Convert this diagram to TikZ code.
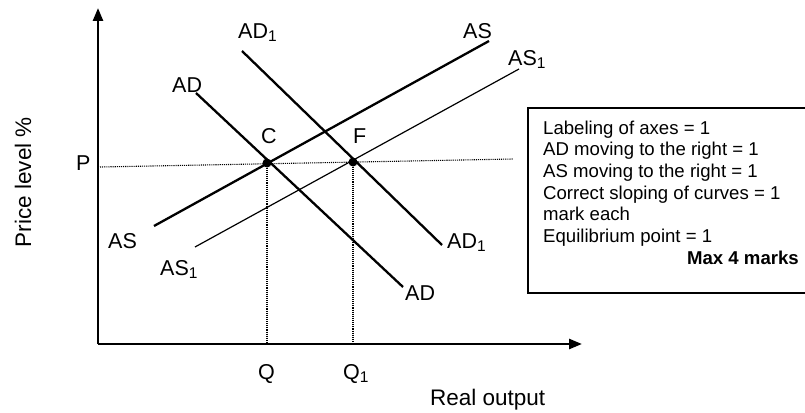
\documentclass[tikz,border=0pt]{standalone}
\usepackage{fontspec}
\setmainfont{Liberation Sans}
\usetikzlibrary{arrows.meta}

\newcommand{\one}{\raisebox{-3.3pt}{\fontsize{15.5}{16}\selectfont 1}}

\begin{document}
\begin{tikzpicture}[x=1pt, y=-1pt, >={Stealth[length=13pt, width=10pt, inset=0pt]},
    axis/.style={line width=2.6pt},
    curve/.style={line width=2.3pt},
    thincurve/.style={line width=1.2pt},
    guide/.style={densely dotted, line width=1.1pt},
    lbl/.style={anchor=base west, inner sep=0pt, font=\fontsize{21.5}{25}\selectfont},
    crit/.style={anchor=base west, inner sep=0pt, font=\fontsize{18.6}{21.7}\selectfont},
    dot/.style={circle, fill, inner sep=0pt, minimum size=9pt}]
    \useasboundingbox (0,0) rectangle (805,412);

    % axes
    \coordinate (O) at (98,344);
    \coordinate (ytop) at (98,8);
    \coordinate (xend) at (582,344);
    \draw[axis, ->] (O) -- (ytop);
    \draw[axis, ->] (O) -- (xend);
    \node[lbl, rotate=90, anchor=base, font=\fontsize{22.5}{26}\selectfont] (ylab) at (31,182) {Price level \%};
    \node[lbl, font=\fontsize{22.5}{26}\selectfont] (xlab) at (430,405) {Real output};

    % equilibrium points
    \node[dot] (C) at (267,163) {};
    \node[dot] (F) at (353,162) {};

    % price level and output guides
    \coordinate (pstart) at (100,167);
    \coordinate (pend) at (513,159);
    \draw[guide] (pstart) -- (pend);
    \draw[guide] (C) -- (C |- O);
    \draw[guide] (F) -- (F |- O);

    % demand curves
    \coordinate (ad-a) at (196,93);
    \coordinate (ad-b) at (403,287);
    \coordinate (ad1-a) at (242,51);
    \coordinate (ad1-b) at (442,245);
    \draw[curve] (ad-a) -- (ad-b);
    \draw[curve] (ad1-a) -- (ad1-b);

    % supply curves
    \coordinate (as-a) at (154,226);
    \coordinate (as-b) at (489,41);
    \coordinate (as1-a) at (195,247);
    \coordinate (as1-b) at (519,69);
    \draw[curve] (as-a) -- (as-b);
    \draw[thincurve] (as1-a) -- (as1-b);

    % labels
    \node[lbl] (adtop) at (172,92) {AD};
    \node[lbl] (ad1top) at (238,38) {AD\one};
    \node[lbl] (astop) at (463,39) {AS};
    \node[lbl] (as1top) at (508,65) {AS\one};
    \node[lbl] (adbot) at (405,300) {AD};
    \node[lbl] (ad1bot) at (447,248) {AD\one};
    \node[lbl] (asbot) at (108,248) {AS};
    \node[lbl] (as1bot) at (160,275) {AS\one};
    \node[lbl] (clab) at (261,143) {C};
    \node[lbl] (flab) at (353,143) {F};
    \node[lbl] (plab) at (76,170) {P};
    \node[lbl] (qlab) at (258,379) {Q};
    \node[lbl] (q1lab) at (343,379) {Q\one};

    % marking box
    \draw[line width=1.1pt] (810,108) -- (528,108) -- (528,293) -- (810,293);
    \foreach \txt [count=\i] in {Labeling of axes = 1, AD moving to the right = 1,
        AS moving to the right = 1, Correct sloping of curves = 1, mark each,
        Equilibrium point = 1}
        \node[crit] (crit\i) at (543,{134+21.7*(\i-1)}) {\txt};
    \node[crit, anchor=base east, font=\fontsize{18.6}{21.7}\selectfont\bfseries] (maxmarks) at (799,264) {Max 4 marks};
\end{tikzpicture}
\end{document}
